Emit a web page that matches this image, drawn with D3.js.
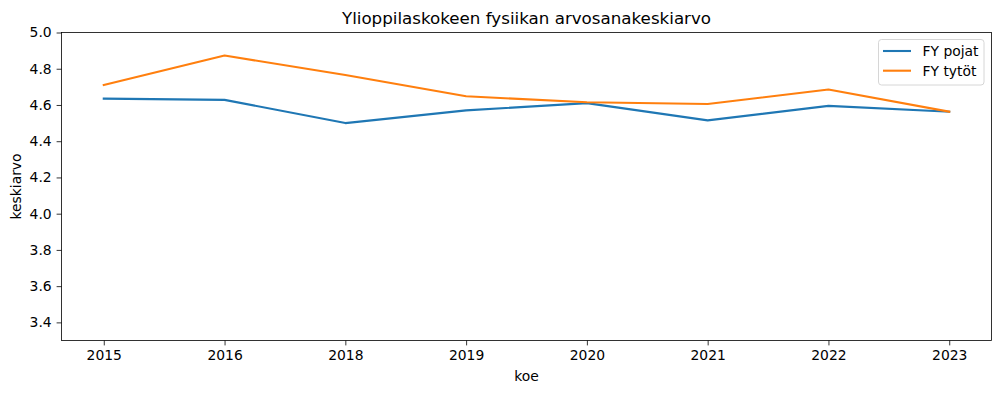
<!DOCTYPE html>
<html><head><meta charset="utf-8">
<script src="https://cdn.jsdelivr.net/npm/d3@7"></script>
<style>body{margin:0;background:#fff}svg{display:block}text{font-family:"DejaVu Sans",sans-serif;fill:#000}</style>
</head><body><svg id="c" width="1001" height="393"></svg>
<script>
const years = ["2015","2016","2018","2019","2020","2021","2022","2023"];
const pojat = [4.635, 4.628, 4.50, 4.57, 4.61, 4.515, 4.595, 4.563];
const tytot = [4.71, 4.873, 4.765, 4.648, 4.615, 4.605, 4.685, 4.563];
const yTicks = [3.4,3.6,3.8,4.0,4.2,4.4,4.6,4.8,5.0];
const seriesNames = ["FY pojat","FY tytöt"];
const colors = ["#1f77b4","#ff7f0e"];

const L=61.5,R=991.5,T=32.5,B=340.5;
const svg=d3.select("#c");
const x=d3.scaleLinear().domain([-0.35,years.length-1+0.35]).range([L,R]);
const y=d3.scaleLinear().domain([3.3,5.0]).range([B,T]);

const xa=svg.append("g").attr("transform",`translate(0,${B})`)
 .call(d3.axisBottom(x).tickValues(d3.range(years.length)).tickFormat(i=>years[i]).tickSize(4.9).tickPadding(4.9));
const ya=svg.append("g").attr("transform",`translate(${L},0)`)
 .call(d3.axisLeft(y).tickValues(yTicks).tickFormat(d3.format(".1f")).tickSize(4.9).tickPadding(4.9));
[xa,ya].forEach(a=>{a.select(".domain").remove();a.selectAll("line").attr("stroke","#000").attr("stroke-width",0.8);a.selectAll("text").attr("font-size","13.9px").attr("font-family","DejaVu Sans").attr("fill","#000");});

const line=d3.line().x((d,i)=>x(i)).y(d=>y(d));
[pojat,tytot].forEach((s,k)=>{
 svg.append("path").datum(s).attr("d",line).attr("fill","none").attr("stroke",colors[k]).attr("stroke-width",2.1).attr("stroke-linejoin","round").attr("stroke-linecap","square");
});
svg.append("rect").attr("x",L).attr("y",T).attr("width",R-L).attr("height",B-T).attr("fill","none").attr("stroke","#000").attr("stroke-width",0.8);

svg.append("text").attr("x",(L+R)/2).attr("y",T-9).attr("text-anchor","middle").attr("font-size","16.7px").text("Ylioppilaskokeen fysiikan arvosanakeskiarvo");
svg.append("text").attr("x",(L+R)/2).attr("y",381).attr("text-anchor","middle").attr("font-size","13.9px").text("koe");
svg.append("text").attr("transform",`translate(21,${(T+B)/2}) rotate(-90)`).attr("text-anchor","middle").attr("font-size","13.9px").text("keskiarvo");

const lg=svg.append("g");
lg.append("rect").attr("x",878.5).attr("y",39.5).attr("width",105.5).attr("height",45.5).attr("rx",3).attr("fill","#fff").attr("fill-opacity",0.8).attr("stroke","#ccc").attr("stroke-width",0.8);
seriesNames.forEach((n,k)=>{
 const yy=51+k*19.7;
 lg.append("line").attr("x1",883).attr("x2",911).attr("y1",yy).attr("y2",yy).attr("stroke",colors[k]).attr("stroke-width",2.1);
 lg.append("text").attr("x",922.5).attr("y",yy+5).attr("font-size","13.9px").text(n);
});
</script></body></html>
